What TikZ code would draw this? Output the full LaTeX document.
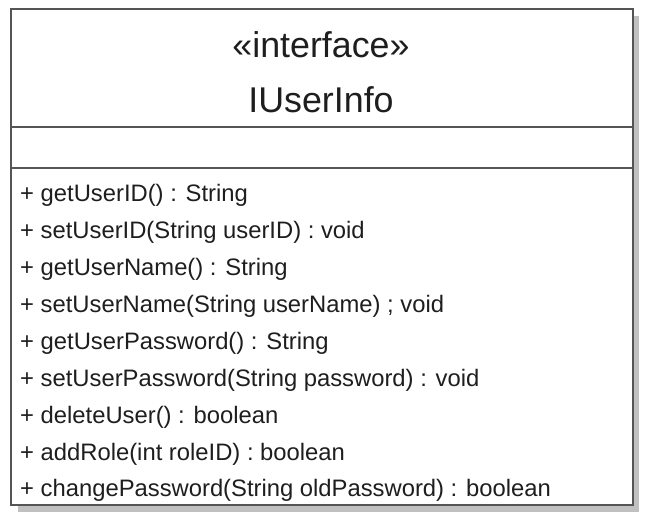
\documentclass[tikz,border=0pt]{standalone}
\usepackage{fontspec}
\setmainfont{Liberation Sans}
\definecolor{umlborder}{HTML}{555555}
\definecolor{umlshadow}{HTML}{C0C0C0}
\definecolor{umltext}{HTML}{1E1E1E}
\begin{document}
\begin{tikzpicture}[x=1pt,y=-1pt,
  titletext/.style={anchor=base, inner sep=0pt, text=umltext, font=\fontsize{35.8}{40}\selectfont},
  optext/.style={anchor=base west, inner sep=0pt, text=umltext, font=\fontsize{23.8}{28}\selectfont},
  border/.style={draw=umlborder, line width=1.6pt}]
\useasboundingbox (0,0) rectangle (654,526);
% shadow
\fill[umlshadow] (18,16) rectangle (639,512);
% class box
\node[border, fill=white, anchor=north west, minimum width=622pt, minimum height=496pt, inner sep=0pt] (box) at (10,8) {};
\coordinate (d1l) at (10,127);
\coordinate (d1r) at (632,127);
\coordinate (d2l) at (10,168);
\coordinate (d2r) at (632,168);
\draw[border] (d1l) -- (d1r);
\draw[border] (d2l) -- (d2r);
% titles
\node[titletext] (stereo) at (321,58) {«interface»};
\node[titletext] (name) at (321,113) {IUserInfo};
% operations
\node[optext] (op1) at (20,202.0) {+ getUserID() : String};
\node[optext] (op2) at (20,238.9) {+ setUserID(String userID) : void};
\node[optext] (op3) at (20,275.8) {+ getUserName() : String};
\node[optext] (op4) at (20,312.6) {+ setUserName(String userName) ; void};
\node[optext] (op5) at (20,349.5) {+ getUserPassword() : String};
\node[optext] (op6) at (20,386.4) {+ setUserPassword(String password) : void};
\node[optext] (op7) at (20,423.2) {+ deleteUser() : boolean};
\node[optext] (op8) at (20,460.1) {+ addRole(int roleID) : boolean};
\node[optext] (op9) at (20,497.0) {+ changePassword(String oldPassword) : boolean};
\end{tikzpicture}
\end{document}
